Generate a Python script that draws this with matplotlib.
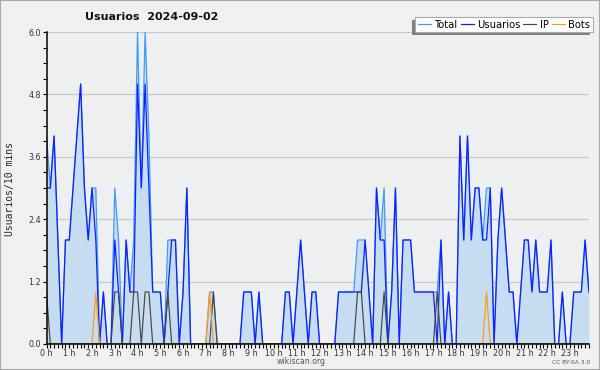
import matplotlib
matplotlib.use("Agg")
import matplotlib.pyplot as plt
import numpy as np
from matplotlib.patches import Rectangle
from matplotlib.transforms import IdentityTransform
from matplotlib.ticker import MultipleLocator, FixedLocator

# one value per 10 minutes, 00:00 .. 23:50
hour_labels = [f"{h} h" for h in range(24)]

usuarios = [
    3, 3, 4, 2, 0, 2, 2, 3, 4, 5, 3, 2,
    3, 2, 0, 1, 0, 0, 2, 1, 0, 2, 1, 1,
    5, 3, 5, 3, 1, 1, 1, 0, 1, 2, 2, 0,
    1, 3, 0, 0, 0, 0, 0, 0, 0, 0, 0, 0,
    0, 0, 0, 0, 1, 1, 1, 0, 1, 0, 0, 0,
    0, 0, 0, 1, 1, 0, 1, 2, 1, 0, 1, 1,
    0, 0, 0, 0, 0, 1, 1, 1, 1, 1, 1, 1,
    2, 1, 0, 3, 2, 2, 0, 1, 3, 0, 2, 2,
    2, 1, 1, 1, 1, 1, 1, 0, 2, 0, 1, 0,
    0, 4, 2, 4, 2, 3, 3, 2, 2, 3, 0, 2,
    3, 2, 1, 1, 0, 1, 2, 2, 1, 2, 1, 1,
    1, 2, 0, 0, 1, 0, 0, 1, 1, 1, 2, 1,
]

ip = [
    1, 0, 0, 0, 0, 0, 0, 0, 0, 0, 0, 0,
    0, 0, 0, 0, 0, 0, 1, 1, 0, 0, 0, 1,
    1, 0, 1, 1, 0, 0, 0, 0, 1, 0, 0, 0,
    0, 0, 0, 0, 0, 0, 0, 0, 1, 0, 0, 0,
    0, 0, 0, 0, 0, 0, 0, 0, 0, 0, 0, 0,
    0, 0, 0, 0, 0, 0, 0, 0, 0, 0, 0, 0,
    0, 0, 0, 0, 0, 0, 0, 0, 0, 0, 1, 1,
    0, 0, 0, 0, 0, 1, 0, 0, 0, 0, 0, 0,
    0, 0, 0, 0, 0, 0, 0, 1, 0, 0, 0, 0,
    0, 0, 0, 0, 0, 0, 0, 0, 0, 0, 0, 0,
    0, 0, 0, 0, 0, 0, 0, 0, 0, 0, 0, 0,
    0, 0, 0, 0, 0, 0, 0, 0, 0, 0, 0, 0,
]

bots = [
    0, 0, 0, 0, 0, 0, 0, 0, 0, 0, 0, 0,
    0, 1, 0, 0, 0, 0, 0, 0, 0, 0, 0, 0,
    0, 0, 0, 0, 0, 0, 0, 0, 0, 0, 0, 0,
    0, 0, 0, 0, 0, 0, 0, 1, 0, 0, 0, 0,
    0, 0, 0, 0, 0, 0, 0, 0, 0, 0, 0, 0,
    0, 0, 0, 0, 0, 0, 0, 0, 0, 0, 0, 0,
    0, 0, 0, 0, 0, 0, 0, 0, 0, 0, 0, 0,
    0, 0, 0, 0, 0, 0, 0, 0, 0, 0, 0, 0,
    0, 0, 0, 0, 0, 0, 0, 0, 0, 0, 0, 0,
    0, 0, 0, 0, 0, 0, 0, 0, 1, 0, 0, 0,
    0, 0, 0, 0, 0, 0, 0, 0, 0, 0, 0, 0,
    0, 0, 0, 0, 0, 0, 0, 0, 0, 0, 0, 0,
]

total = [
    4, 3, 4, 2, 0, 2, 2, 3, 4, 5, 3, 2,
    3, 3, 0, 1, 0, 0, 3, 2, 0, 2, 1, 2,
    6, 3, 6, 4, 1, 1, 1, 0, 2, 2, 2, 0,
    1, 3, 0, 0, 0, 0, 0, 1, 1, 0, 0, 0,
    0, 0, 0, 0, 1, 1, 1, 0, 1, 0, 0, 0,
    0, 0, 0, 1, 1, 0, 1, 2, 1, 0, 1, 1,
    0, 0, 0, 0, 0, 1, 1, 1, 1, 1, 2, 2,
    2, 1, 0, 3, 2, 3, 0, 1, 3, 0, 2, 2,
    2, 1, 1, 1, 1, 1, 1, 1, 2, 0, 1, 0,
    0, 4, 2, 4, 2, 3, 3, 2, 3, 3, 0, 2,
    3, 2, 1, 1, 0, 1, 2, 2, 1, 2, 1, 1,
    1, 2, 0, 0, 1, 0, 0, 1, 1, 1, 2, 1,
]

C_TOTAL = "#3d9cf5"
C_FILL = "#c6dcf0"
C_USER = "#1020ff"
C_IP = "#454545"
C_BOTS = "#ff9a10"

x = np.arange(len(usuarios))

fig = plt.figure(figsize=(6, 3.7), dpi=100, facecolor="#f0f0f0")
ax = fig.add_axes([0.0775, 0.0703, 0.904, 0.8432])
ax.set_facecolor("#eeeff1")

ax.fill_between(x, total, 0, color=C_FILL, lw=0, zorder=1)
ax.plot(x, total, color=C_TOTAL, lw=0.9, zorder=2, label="Total")
ax.plot(x, usuarios, color=C_USER, lw=0.9, zorder=2.1, label="Usuarios")
ax.plot(x, ip, color=C_IP, lw=0.85, zorder=2.2, label="IP")
ax.plot(x, bots, color=C_BOTS, lw=0.85, zorder=2.3, label="Bots")

ax.set_xlim(0, len(usuarios) - 1)
ax.set_ylim(0, 6)

ax.yaxis.set_major_locator(FixedLocator([0, 1.2, 2.4, 3.6, 4.8, 6.0]))
ax.yaxis.set_minor_locator(MultipleLocator(0.3))
ax.set_yticklabels(["0.0", "1.2", "2.4", "3.6", "4.8", "6.0"])
ax.xaxis.set_major_locator(FixedLocator(np.arange(0, 144, 6)))
ax.xaxis.set_minor_locator(MultipleLocator(1))
ax.set_xticklabels(hour_labels)

ax.tick_params(axis="both", which="both", direction="out", length=2.6,
               width=0.8, color="black", labelsize=5.8, labelcolor="#333333")
ax.tick_params(axis="x", which="major", pad=1.0)
ax.tick_params(axis="y", which="major", pad=1.5)

ax.grid(axis="y", which="major", color="#c8c8c8", lw=0.9, zorder=0.5)
ax.set_axisbelow(True)
for side in ["top", "right"]:
    ax.spines[side].set_visible(False)
for side in ["left", "bottom"]:
    ax.spines[side].set_linewidth(1.1)
    ax.spines[side].set_zorder(3)

fig.text(0.252, 0.955, "Usuarios  2024-09-02", ha="center", va="center",
         fontsize=8, fontweight="bold", color="#111111")
fig.text(0.017, 0.49, "Usuarios/10 mins", rotation=90, ha="center",
         va="center", fontsize=7, family="DejaVu Sans Mono", color="#222222")
fig.text(0.502, 0.024, "wikiscan.org", ha="center", va="center",
         fontsize=5.6, color="#555555")
fig.text(0.983, 0.019, "CC BY-SA 3.0", ha="right", va="center",
         fontsize=4.3, color="#555555")

leg = ax.legend(loc="upper right", bbox_to_anchor=(0.988, 0.954),
                bbox_transform=fig.transFigure, ncol=4, fontsize=7.2,
                frameon=True, fancybox=False, borderpad=0.25,
                handlelength=1.3, handletextpad=0.35, columnspacing=0.3,
                borderaxespad=0)
leg.set_zorder(6)
frame = leg.get_frame()
frame.set_edgecolor("#aaaaaa")
frame.set_linewidth(0.8)
frame.set_facecolor("white")
frame.set_alpha(1)

# drop shadow offset down-left, as in the original
fig.canvas.draw()
bb = leg.get_window_extent()
shadow = Rectangle((bb.x0 - 3, bb.y0 - 3), bb.width, bb.height,
                   transform=IdentityTransform(), facecolor="#808080",
                   edgecolor="none", zorder=5.5, clip_on=False)
ax.add_artist(shadow)

fig.patches.append(Rectangle((0, 0), 1, 1, transform=fig.transFigure,
                             fill=False, edgecolor="#a8a8a8", lw=1.5))

fig.savefig("out.png", dpi=100, facecolor=fig.get_facecolor())
